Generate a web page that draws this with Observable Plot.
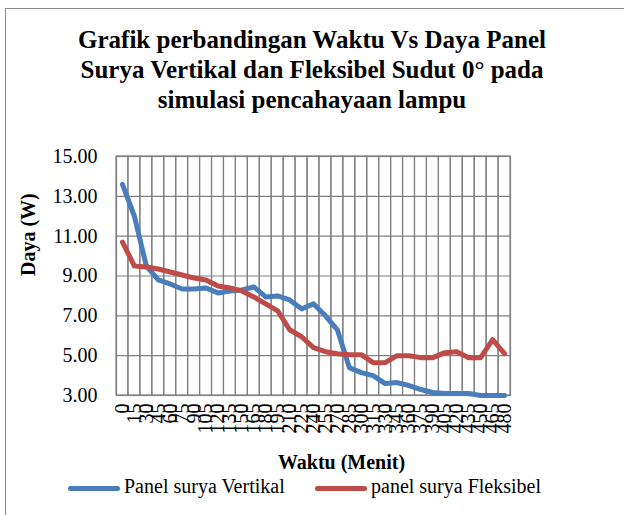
<!DOCTYPE html>
<html>
<head>
<meta charset="utf-8">
<script src="https://cdn.jsdelivr.net/npm/d3@7"></script>
<script src="https://cdn.jsdelivr.net/npm/@observablehq/plot@0.6"></script>
<style>
  html, body { margin: 0; padding: 0; background: #fff; }
  #wrap { position: relative; width: 624px; height: 515px; overflow: hidden; font-family: "Liberation Serif", "Times New Roman", serif; color: #000; }
  #border { position: absolute; left: 5px; top: 8px; width: 700px; height: 600px; border: 1px solid #8c8c8c; box-sizing: border-box; }
  #title { position: absolute; left: 0; top: 25px; width: 624px; text-align: center; font-weight: bold; font-size: 25px; line-height: 30px; }
  #chart { position: absolute; left: 0; top: 0; }
  .leg { position: absolute; top: 474px; font-size: 20px; line-height: 24px; white-space: nowrap; }
  .sw { display: inline-block; width: 52px; height: 5px; border-radius: 2.5px; vertical-align: middle; margin-right: 4px; }
</style>
</head>
<body>
<div id="wrap">
  <div id="border"></div>
  <div id="chart"></div>
  <div id="title">Grafik perbandingan Waktu Vs Daya Panel<br>Surya Vertikal dan Fleksibel Sudut 0° pada<br>simulasi pencahayaan lampu</div>
  <div id="legend"></div>
</div>
<script>
const minutes = ["0","15","30","45","60","75","90","105","120","135","150","165","180","195","210","225","240","255","270","285","300","315","330","345","360","375","390","405","420","435","450","465","480"];
const vertikal = [13.6,12.0,9.5,8.8,8.6,8.35,8.35,8.4,8.15,8.25,8.3,8.45,7.95,8.0,7.8,7.35,7.6,7.0,6.3,4.4,4.15,4.0,3.6,3.65,3.5,3.3,3.15,3.1,3.1,3.1,3.0,3.0,3.0];
const fleksibel = [10.7,9.5,9.45,9.35,9.2,9.05,8.9,8.8,8.5,8.4,8.25,7.95,7.6,7.25,6.3,5.95,5.4,5.2,5.1,5.05,5.05,4.65,4.65,5.0,5.0,4.9,4.9,5.15,5.2,4.9,4.9,5.8,5.1];
const yTicks = [3,5,7,9,11,13,15];
const seriesNames = ["Panel surya Vertikal","panel surya Fleksibel"];
const colors = ["#4a7ebb","#be4b48"];

const rows = [];
minutes.forEach((m, i) => {
  rows.push({t: m, v: vertikal[i], s: seriesNames[0]});
  rows.push({t: m, v: fleksibel[i], s: seriesNames[1]});
});

const grid = "#808080";
const chart = Plot.plot({
  width: 624,
  height: 500,
  marginTop: 156,
  marginBottom: 105,
  marginLeft: 116,
  marginRight: 114,
  style: {fontFamily: "Liberation Serif, Times New Roman, serif", fontSize: "20px", background: "transparent", color: "#000"},
  x: {type: "band", domain: minutes, padding: 0, label: null},
  y: {domain: [3, 15], label: null},
  color: {domain: seriesNames, range: colors},
  marks: [
    Plot.cell(minutes, {x: d => d, fill: "none", stroke: grid, strokeWidth: 1.2}),
    Plot.gridY(yTicks, {stroke: grid, strokeOpacity: 1, strokeWidth: 1.2}),
    Plot.frame({stroke: grid, strokeWidth: 1.2}),
    Plot.axisY(yTicks, {tickSize: 0, tickPadding: 19, tickFormat: d => d.toFixed(2), fontSize: 20, label: null}),
    Plot.axisX({tickSize: 0, tickRotate: -90, tickPadding: 8, fontSize: 20, label: null}),
    Plot.line(rows, {x: "t", y: "v", stroke: "s", z: "s", strokeWidth: 5, strokeLinejoin: "round", strokeLinecap: "round"}),
    Plot.text(["Daya (W)"], {frameAnchor: "left", dx: -88, rotate: -90, fontWeight: "bold", fontSize: 20, lineAnchor: "middle"}),
    Plot.text(["Waktu (Menit)"], {frameAnchor: "bottom", dx: 28, dy: 67, fontWeight: "bold", fontSize: 20, lineAnchor: "middle"})
  ]
});
document.getElementById("chart").appendChild(chart);

const legend = document.getElementById("legend");
const legLeft = [68, 315];
seriesNames.forEach((name, i) => {
  const item = document.createElement("div");
  item.className = "leg";
  item.style.left = legLeft[i] + "px";
  const sw = document.createElement("span");
  sw.className = "sw";
  sw.style.background = colors[i];
  item.appendChild(sw);
  item.appendChild(document.createTextNode(name));
  legend.appendChild(item);
});
</script>
</body>
</html>
